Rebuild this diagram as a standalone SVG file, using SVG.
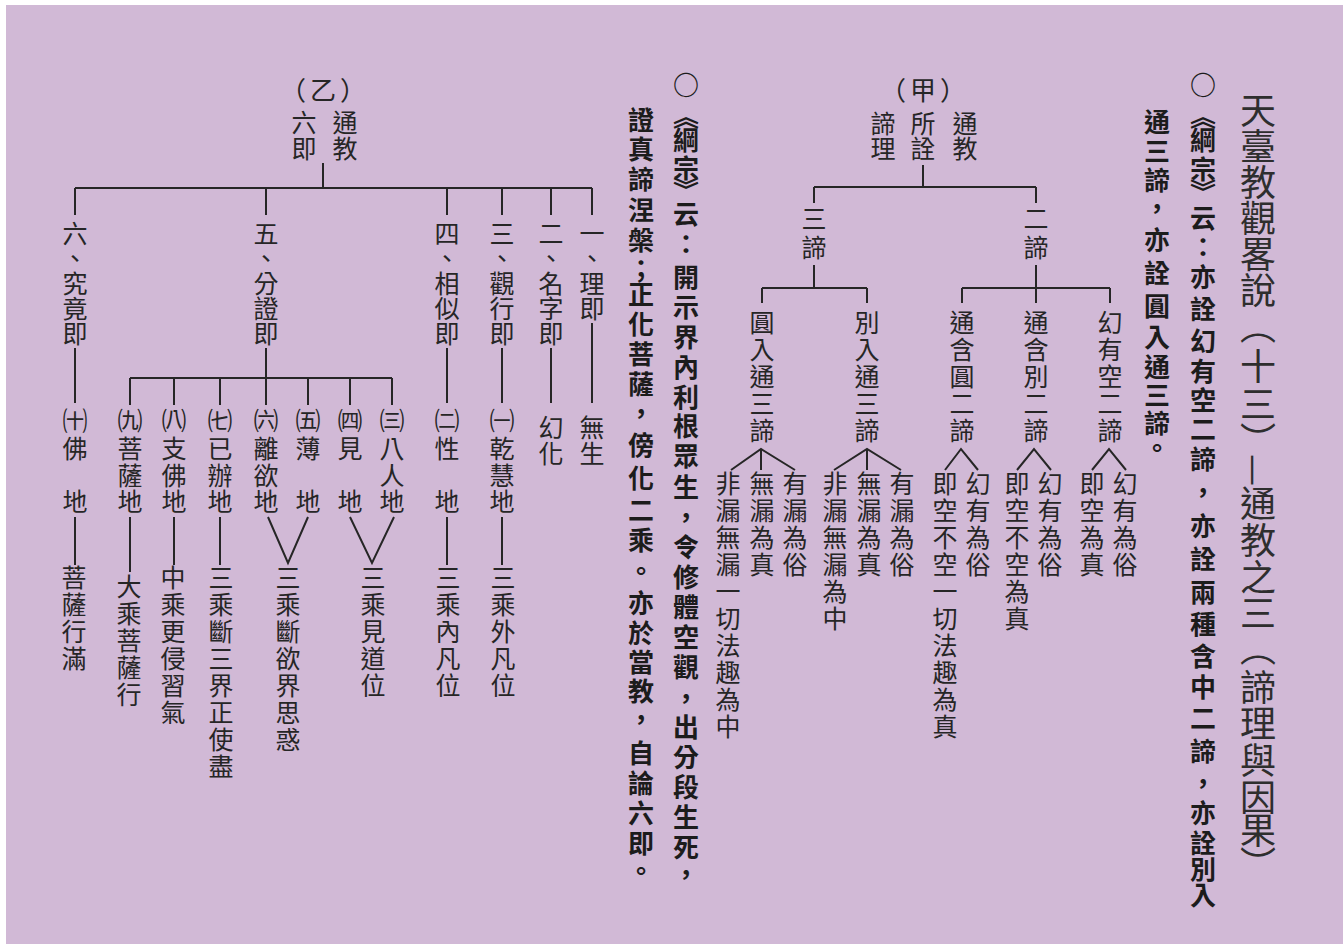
<svg xmlns="http://www.w3.org/2000/svg" width="1343" height="944" viewBox="0 0 1343 944">
<style>
text{font-family:"Noto Sans CJK TC","Noto Sans CJK SC",sans-serif;fill:#262626}
.v{writing-mode:vertical-rl}
.m{text-anchor:middle}
.title{font-size:36px;fill:#2e2e2e}
.note{font-size:26px;font-weight:700;fill:#1c1c1c}
.t{font-size:25px}
.s2{letter-spacing:2px}
.h{font-size:26px;letter-spacing:4px;text-anchor:middle;dominant-baseline:central}
.pn{font-size:25px}
#connectors path{fill:none;stroke:#262626;stroke-width:2}
</style>
<rect width="1343" height="944" fill="#ffffff"/>
<rect x="6" y="5" width="1337" height="939" fill="#d1b9d6"/>

<g id="title">
<text class="v m title" x="1258" y="110 146 182 218 254 290 326 366 404 440 470 503 540 577 613 648 687 723 760 797 830 864">天臺教觀畧說（十三）—通教之三（諦理與因果）</text>
</g>

<g id="note-1">
<text class="v m note" x="1203" y="85 116 140 169 192 218 247 277 309 341 371 400 429 459 492 526 559 592 624 656 687 718 751 783 813 843 869 895">○《綱宗》云：亦詮幻有空二諦，亦詮兩種含中二諦，亦詮別入</text>
<text class="v m note" x="1157" y="122 151 180 208 240 273 306 337 367 395 423 448">通三諦，亦詮圓入通三諦。</text>
</g>

<g id="note-2">
<text class="v m note" x="686" y="85 116 140 168 190 214 244 277 307 337 367 397 426 456 487 517 547 577 607 637 667 698 727 757 787 817 847 874">○《綱宗》云：開示界內利根眾生，令修體空觀，出分段生死，</text>
<text class="v m note" x="641" y="120 149 179 210 240 269 294 324 354 384 413 445 478 510 540 571 603 633 662 691 719 753 783 813 843 871">證真諦涅槃；正化菩薩，傍化二乘。亦於當教，自論六即。</text>
</g>

<g id="connectors">
<path d="M923,165V187M814,187H1036M814,187V203M1036,187V203"/>
<path d="M814,265V288M762,288H867M762,288V303M867,288V303"/>
<path d="M1036,265V303M962,288H1110M962,288V303M1110,288V303"/>
<path d="M731,470L761,449L795,470M761,449V470"/>
<path d="M834,470L867,449L901,470M867,449V470"/>
<path d="M945,470L961,449L978,470"/>
<path d="M1017,470L1034,449L1051,470"/>
<path d="M1092,470L1109,449L1126,470"/>
<path d="M323,163V188M75,188H592M75,188V215M266,188V215M447,188V215M502,188V215M551,188V215M592,188V215"/>
<path d="M592,323V403M551,348V403M502,348V403M447,348V403M75,348V403M266,348V378"/>
<path d="M130,378H392M130,378V405M174,378V405M220,378V405M266,378V405M308,378V405M350,378V405M392,378V405"/>
<path d="M502,517V565M447,517V565M220,517V565M174,517V565M75,517V565M130,517V572"/>
<path d="M268,517L288,563L308,517M350,517L372,563L394,517"/>
</g>

<g id="jia-root">
<text class="h" x="925" y="88">（甲）</text>
<text class="v m t" x="965 965 923 923 883 883" y="123 148 123 148 123 148">通教所詮諦理</text>
</g>
<g id="jia-sandi"><text class="v m t" x="814" y="218 247">三諦</text></g>
<g id="jia-erdi"><text class="v m t" x="1036" y="218 247">二諦</text></g>
<g id="jia-yuanru"><text class="v t s2" x="762" y="310">圓入通三諦</text></g>
<g id="jia-bieru"><text class="v t s2" x="867" y="310">別入通三諦</text></g>
<g id="jia-tonghanyuan"><text class="v t s2" x="962" y="310">通含圓二諦</text></g>
<g id="jia-tonghanbie"><text class="v t s2" x="1036" y="310">通含別二諦</text></g>
<g id="jia-huanyoukong"><text class="v t s2" x="1110" y="310">幻有空二諦</text></g>

<g id="jia-yuanru-1"><text class="v t s2" x="795" y="471">有漏為俗</text></g>
<g id="jia-yuanru-2"><text class="v t s2" x="762" y="471">無漏為真</text></g>
<g id="jia-yuanru-3"><text class="v t s2" x="728" y="471">非漏無漏一切法趣為中</text></g>
<g id="jia-bieru-1"><text class="v t s2" x="902" y="471">有漏為俗</text></g>
<g id="jia-bieru-2"><text class="v t s2" x="869" y="471">無漏為真</text></g>
<g id="jia-bieru-3"><text class="v t s2" x="835" y="471">非漏無漏為中</text></g>
<g id="jia-tonghanyuan-1"><text class="v t s2" x="978" y="471">幻有為俗</text></g>
<g id="jia-tonghanyuan-2"><text class="v t s2" x="945" y="471">即空不空一切法趣為真</text></g>
<g id="jia-tonghanbie-1"><text class="v t s2" x="1050" y="471">幻有為俗</text></g>
<g id="jia-tonghanbie-2"><text class="v t s2" x="1017" y="471">即空不空為真</text></g>
<g id="jia-huanyoukong-1"><text class="v t s2" x="1125" y="471">幻有為俗</text></g>
<g id="jia-huanyoukong-2"><text class="v t s2" x="1092" y="471">即空為真</text></g>

<g id="yi-root">
<text class="h" x="325" y="88">（乙）</text>
<text class="v m t" x="345 345 304 304" y="122 148 122 148">通教六即</text>
</g>
<g id="yi-1"><text class="v t" x="592" y="220.5">一、理即</text></g>
<g id="yi-2"><text class="v t" x="551" y="220.5">二、名字即</text></g>
<g id="yi-3"><text class="v t" x="502" y="220.5">三、觀行即</text></g>
<g id="yi-4"><text class="v t" x="447" y="220.5">四、相似即</text></g>
<g id="yi-5"><text class="v t" x="266" y="220.5">五、分證即</text></g>
<g id="yi-6"><text class="v t" x="75" y="220.5">六、究竟即</text></g>

<g id="yi-1-a"><text class="v m t" x="592" y="427 453">無生</text></g>
<g id="yi-2-a"><text class="v m t" x="551" y="427 453">幻化</text></g>
<g id="yi-3-a"><text class="v m t" x="502" y="420 448 475 501"><tspan class="pn">㈠</tspan>乾慧地</text></g>
<g id="yi-4-a"><text class="v m t" x="447" y="420 448 501"><tspan class="pn">㈡</tspan>性地</text></g>
<g id="yi-5-3"><text class="v m t" x="392" y="420 448 475 501"><tspan class="pn">㈢</tspan>八人地</text></g>
<g id="yi-5-4"><text class="v m t" x="350" y="420 448 501"><tspan class="pn">㈣</tspan>見地</text></g>
<g id="yi-5-5"><text class="v m t" x="308" y="420 448 501"><tspan class="pn">㈤</tspan>薄地</text></g>
<g id="yi-5-6"><text class="v m t" x="266" y="420 448 475 501"><tspan class="pn">㈥</tspan>離欲地</text></g>
<g id="yi-5-7"><text class="v m t" x="220" y="420 448 475 501"><tspan class="pn">㈦</tspan>已辦地</text></g>
<g id="yi-5-8"><text class="v m t" x="174" y="420 448 475 501"><tspan class="pn">㈧</tspan>支佛地</text></g>
<g id="yi-5-9"><text class="v m t" x="130" y="420 448 475 501"><tspan class="pn">㈨</tspan>菩薩地</text></g>
<g id="yi-6-a"><text class="v m t" x="75" y="420 448 501"><tspan class="pn">㈩</tspan>佛地</text></g>

<g id="yi-3-b"><text class="v t s2" x="503" y="564.5">三乘外凡位</text></g>
<g id="yi-4-b"><text class="v t s2" x="448" y="564.5">三乘內凡位</text></g>
<g id="yi-5-34"><text class="v t s2" x="373" y="564.5">三乘見道位</text></g>
<g id="yi-5-56"><text class="v t s2" x="288" y="564.5">三乘斷欲界思惑</text></g>
<g id="yi-5-7b"><text class="v t s2" x="221" y="564.5">三乘斷三界正使盡</text></g>
<g id="yi-5-8b"><text class="v t s2" x="173" y="564.5">中乘更侵習氣</text></g>
<g id="yi-5-9b"><text class="v t s2" x="129" y="574">大乘菩薩行</text></g>
<g id="yi-6-b"><text class="v t s2" x="74" y="564.5">菩薩行滿</text></g>
</svg>
